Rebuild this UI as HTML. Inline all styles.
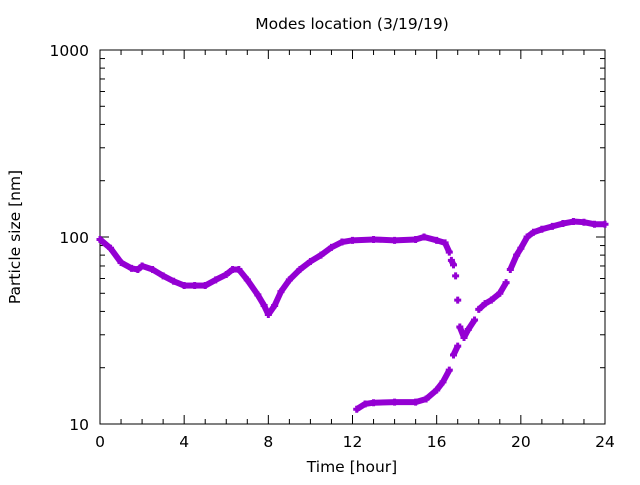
<!DOCTYPE html>
<html><head><meta charset="utf-8"><style>
body{margin:0;background:#fff}
svg text{font-family:"DejaVu Sans","Liberation Sans",sans-serif;font-size:15.5px;fill:#000}
</style></head><body>
<svg id="c" width="640" height="480" xmlns="http://www.w3.org/2000/svg">
<rect width="640" height="480" fill="#fff"/>
<text x="352" y="29" text-anchor="middle">Modes location (3/19/19)</text>
<text x="352" y="472" text-anchor="middle">Time [hour]</text>
<text transform="translate(20,237) rotate(-90)" text-anchor="middle">Particle size [nm]</text>
<g id="axes"></g>
<g id="marks"></g>
</svg>
<script>
const xTicks=[0,4,8,12,16,20,24];
const yTicks=[10,100,1000];
const modeAT=[0,0.5,1,1.5,1.8,2,2.5,3,3.5,4,4.5,5,5.5,6,6.3,6.6,7,7.5,7.8,8,8.3,8.6,9,9.5,10,10.5,11,11.5,12,13,14,15,15.4,16,16.4,16.6,16.7,16.8,16.9,17.0,17.1,17.3,17.5,17.8,18,18.3,18.6,19,19.3,19.5,19.8,20,20.3,20.6,21,21.5,22,22.5,23,23.5,24];
const modeAV=[97,87,73,68,67,70,67,62,58,55,55,55,59,63,67,67,59,49,43,38.5,43,51,59,67,74,80,88,94,96,97,96,97,100,96,93,83,75,71,62,46,33,29,32,36,41,44,46,50,57,67,80,87,100,106,110,114,118,121,120,117,117];
const modeBT=[12.2,12.6,13,14,15,15.5,16,16.3,16.6,16.8,17.0];
const modeBV=[12.0,12.8,13.0,13.1,13.1,13.6,15.2,16.8,19.4,23.4,26.1];
const L=100,R=605,T=50,B=424;
function xs(t){return L+(t-0)/24*(R-L);}
function ys(v){return B-(Math.log10(v)-1)/2*(B-T);}
const NS="http://www.w3.org/2000/svg";
const ax=document.getElementById('axes');
function el(tag,a,p){const e=document.createElementNS(NS,tag);for(const k in a)e.setAttribute(k,a[k]);p.appendChild(e);return e;}
const frame=el('rect',{x:L,y:T,width:R-L,height:B-T,fill:'none',stroke:'#000','stroke-width':1},ax);


for(let t=0;t<=24;t++){const major=t%4===0;const len=major?9:5;const x=xs(t);
 const a=el('line',{x1:x,y1:B,x2:x,y2:B-len,stroke:'#000'},ax);
 
 
 const b=el('line',{x1:x,y1:T,x2:x,y2:T+len,stroke:'#000'},ax);
 
 }
xTicks.forEach(t=>{const tx=el('text',{x:xs(t),y:447,'text-anchor':'middle'},ax);tx.textContent=t;
 
 });
for(let d=10;d<1000;d*=10){for(let m=1;m<10;m++){const v=d*m;const major=m===1;const len=major?9:5;const y=ys(v);
 const a=el('line',{x1:L,y1:y,x2:L+len,y2:y,stroke:'#000'},ax);
 
 
 const b=el('line',{x1:R,y1:y,x2:R-len,y2:y,stroke:'#000'},ax);
 
 }}
yTicks.forEach(v=>{const tx=el('text',{x:89,y:ys(v)+6,'text-anchor':'end'},ax);tx.textContent=v;
 
 });
const mk=document.getElementById('marks');
function series(T_,V_,name){
 const g=el('g',{fill:'#9400d3',stroke:'#9400d3'},mk);
 
 
 for(let i=0;i<T_.length;i++){
  const x=xs(T_[i]),y=ys(V_[i]);
  if(i>0){const px=xs(T_[i-1]),py=ys(V_[i-1]);
   const dx=Math.abs(x-px),dy=Math.abs(y-py);
   if(T_[i]-T_[i-1]<=1.1 && dy<=2.5*dx){const ln=el('line',{x1:px,y1:py,x2:x,y2:y,'stroke-width':6},g);
    
    }}
  const p=el('path',{d:`M${x-3.5} ${y-1.5}h2v-2h3v2h2v3h-2v2h-3v-2h-2z`,stroke:'none'},g);
  
  
 }}
series(modeAT,modeAV,'mode-a');
series(modeBT,modeBV,'mode-b');
</script>
</body></html>
